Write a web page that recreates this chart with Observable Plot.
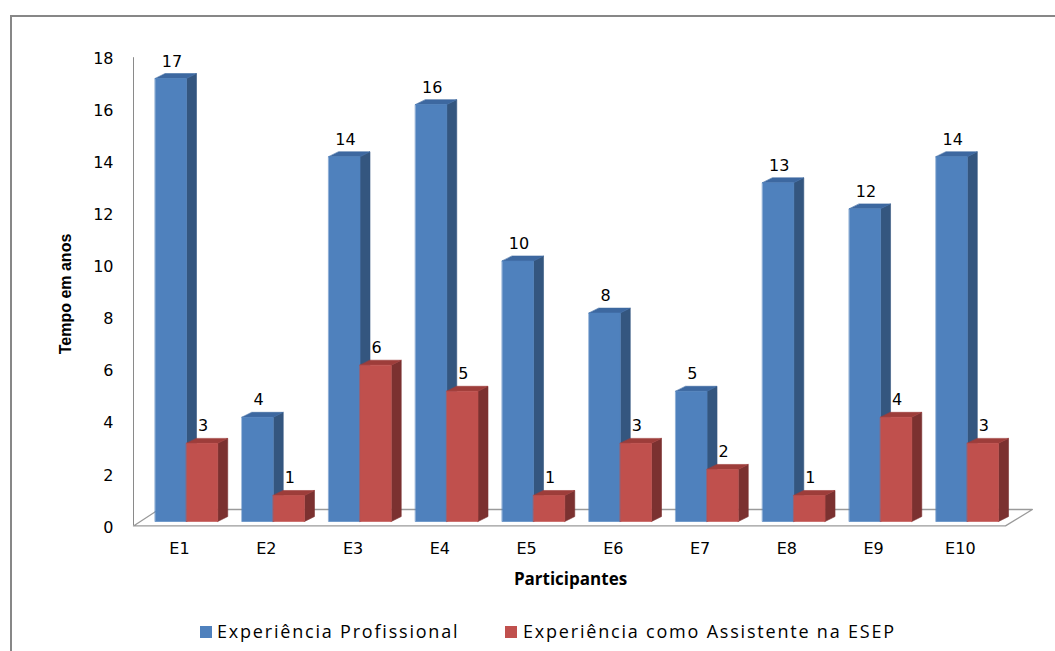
<!DOCTYPE html>
<html>
<head>
<meta charset="utf-8">
<script src="https://cdn.jsdelivr.net/npm/d3@7"></script>
<script src="https://cdn.jsdelivr.net/npm/@observablehq/plot@0.6"></script>
<style>
  html, body { margin: 0; padding: 0; background: #fff; }
  #wrap { position: relative; width: 1055px; height: 651px; overflow: hidden; }
  #border { position: absolute; left: 10px; top: 15px; width: 1200px; height: 800px;
            border-top: 2px solid #878787; border-left: 2px solid #878787; pointer-events: none; }
  #chart svg { display: block; }
  #legend { position: relative; height: 41px; font-family: "Open Sans", sans-serif; font-size: 18px;
            letter-spacing: 1.8px; color: #000; }
  .sw { position: absolute; top: 16px; width: 12px; height: 12px; }
  .lt { position: absolute; top: 9px; line-height: 24px; white-space: nowrap; }
</style>
</head>
<body>
<div id="wrap">
  <div id="chart"></div>
  <div id="legend"></div>
  <div id="border"></div>
</div>
<script>
const categories = ["E1", "E2", "E3", "E4", "E5", "E6", "E7", "E8", "E9", "E10"];
const experienciaProfissional = [17, 4, 14, 16, 10, 8, 5, 13, 12, 14];
const experienciaAssistente = [3, 1, 6, 5, 1, 3, 2, 1, 4, 3];
const seriesNames = ["Experiência Profissional", "Experiência como Assistente na ESEP"];
const yTicks = [0, 2, 4, 6, 8, 10, 12, 14, 16, 18];

const colors = [
  {front: "#4F81BD", side: "#34567F", top: "#3D68A0"},
  {front: "#C0504D", side: "#7B3130", top: "#9D3D3A"}
];

// 3D geometry (in data units)
const W = 0.36;     // front width of one bar
const D = 0.115;    // horizontal depth
const DY = 0.19;    // vertical depth
const xMin = -0.611, xMax = 9.44;

const seriesValues = [experienciaProfissional, experienciaAssistente];
const faces = {front: [[], []], side: [[], []], top: [[], []]};
const labels = [];
seriesValues.forEach((vals, s) => {
  vals.forEach((v, i) => {
    const x0 = s === 0 ? i - W : i;
    const x1 = x0 + W;
    const id = categories[i] + "-" + s;
    faces.front[s].push(...[[x0, 0], [x1, 0], [x1, v], [x0, v]].map(([x, y]) => ({id, x, y})));
    faces.side[s].push(...[[x1, 0], [x1 + D, DY], [x1 + D, v + DY], [x1, v]].map(([x, y]) => ({id, x, y})));
    faces.top[s].push(...[[x0, v], [x1, v], [x1 + D, v + DY], [x0 + D, v + DY]].map(([x, y]) => ({id, x, y})));
    labels.push({x: (x0 + x1) / 2, y: v, text: String(v), s});
  });
});

const floor = [
  {x: xMin, y: -0.17}, {x: xMax, y: -0.17}, {x: 9.75, y: 0.46}, {x: -0.32, y: 0.46}
].map(d => ({...d, id: "floor"}));

function poly(data, fill, stroke, sw) {
  return Plot.line(data, {x: "x", y: "y", z: "id", fill, stroke: stroke || fill, strokeWidth: sw || 0.6, curve: "linear-closed"});
}

const tickFont = {fontSize: 16, fontFamily: "DejaVu Sans", letterSpacing: 2.6};

const marks = [
  poly(floor, "#fff", "#9A9A9A", 1.3),
  Plot.ruleX([xMin], {y1: -0.17, y2: 17.8, stroke: "#8A8A8A", strokeWidth: 1}),
  Plot.axisY(yTicks, {tickSize: 0, tickPadding: 20, dy: 6, ...tickFont, tickFormat: d => String(d), label: null}),
  Plot.axisX(d3.range(categories.length), {tickSize: 0, tickPadding: 21, dx: -7, ...tickFont, tickFormat: i => categories[i], label: null})
];
for (let s = 0; s < 2; s++) {
  marks.push(poly(faces.side[s], colors[s].side));
  marks.push(poly(faces.top[s], colors[s].top));
  marks.push(poly(faces.front[s], colors[s].front));
}
marks.push(Plot.text(labels, {x: "x", y: "y", text: "text", dy: -12, dx: 1, lineAnchor: "bottom", ...tickFont, fill: "#000"}));
marks.push(Plot.text(["Participantes"], {frameAnchor: "bottom", dy: 51, dx: 1, lineAnchor: "top", fontSize: 17, fontWeight: "bold", fontFamily: "Open Sans", letterSpacing: 2.9, fill: "#000"}));
marks.push(Plot.text(["Tempo em anos"], {frameAnchor: "left", textAnchor: "middle", dx: -68, dy: 7, rotate: -90, fontSize: 16, fontWeight: "bold", fontFamily: "Liberation Sans", fill: "#000"}));

const chart = Plot.plot({
  width: 1055,
  height: 610,
  marginLeft: 133,
  marginRight: 50,
  marginTop: 52,
  marginBottom: 89,
  style: {background: "transparent", overflow: "visible"},
  x: {type: "linear", domain: [xMin, xMax], axis: null},
  y: {type: "linear", domain: [0, 18], axis: null},
  marks
});
document.getElementById("chart").appendChild(chart);

const legend = document.getElementById("legend");
const legendPos = [{sw: 200, tx: 217}, {sw: 505, tx: 523}];
seriesNames.forEach((name, s) => {
  const sw = document.createElement("div");
  sw.className = "sw";
  sw.style.left = legendPos[s].sw + "px";
  sw.style.background = colors[s].front;
  legend.appendChild(sw);
  const t = document.createElement("div");
  t.className = "lt";
  t.style.left = legendPos[s].tx + "px";
  t.textContent = name;
  legend.appendChild(t);
});
</script>
</body>
</html>
